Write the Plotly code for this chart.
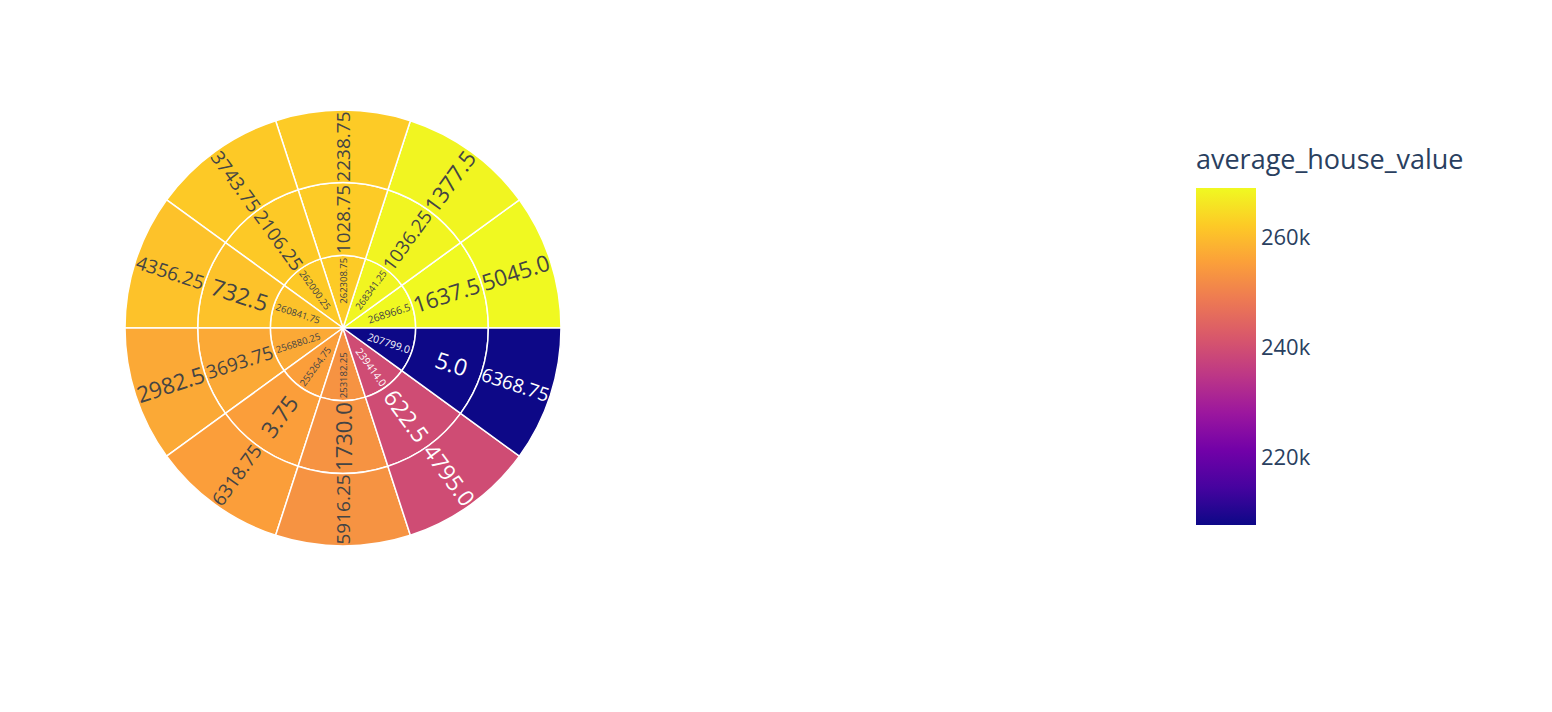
import plotly.graph_objects as go

house_value = ["268966.5", "268341.25", "262308.75", "262000.25", "260841.75",
               "256880.25", "255264.75", "253182.25", "239414.0", "207799.0"]
middle = ["1637.5", "1036.25", "1028.75", "2106.25", "732.5",
          "3693.75", "3.75", "1730.0", "622.5", "5.0"]
outer = ["5045.0", "1377.5", "2238.75", "3743.75", "4356.25",
         "2982.5", "6318.75", "5916.25", "4795.0", "6368.75"]
avg_value = [float(v) for v in house_value]

ids, labels, parents, colors = [], [], [], []
for i in range(len(house_value)):
    ids += [f"a{i}", f"b{i}", f"c{i}"]
    labels += [house_value[i], middle[i], outer[i]]
    parents += ["", f"a{i}", f"b{i}"]
    colors += [avg_value[i]] * 3

fig = go.Figure(go.Sunburst(
    ids=ids, labels=labels, parents=parents, sort=False, rotation=0,
    insidetextorientation="radial", textfont=dict(size=23),
    marker=dict(colors=colors, colorscale="Plasma", showscale=True,
                line=dict(color="white", width=1.5),
                colorbar=dict(title=dict(text="average_house_value", font=dict(size=27)),
                              tickfont=dict(size=22), thickness=60,
                              len=(527 - 128) / 712, yanchor="top", y=1 - 128 / 712,
                              x=0.759, xanchor="left", outlinewidth=0,
                              tickvals=[220000, 240000, 260000],
                              ticktext=["220k", "240k", "260k"])),
    domain=dict(x=[117 / 1552, 553 / 1552], y=[174 / 712, 610 / 712]),
))
fig.update_layout(width=1552, height=712, margin=dict(l=0, r=0, t=0, b=0),
                  font=dict(family="Open Sans, sans-serif", color="#2a3f5f"))
fig.write_html("out.html")
